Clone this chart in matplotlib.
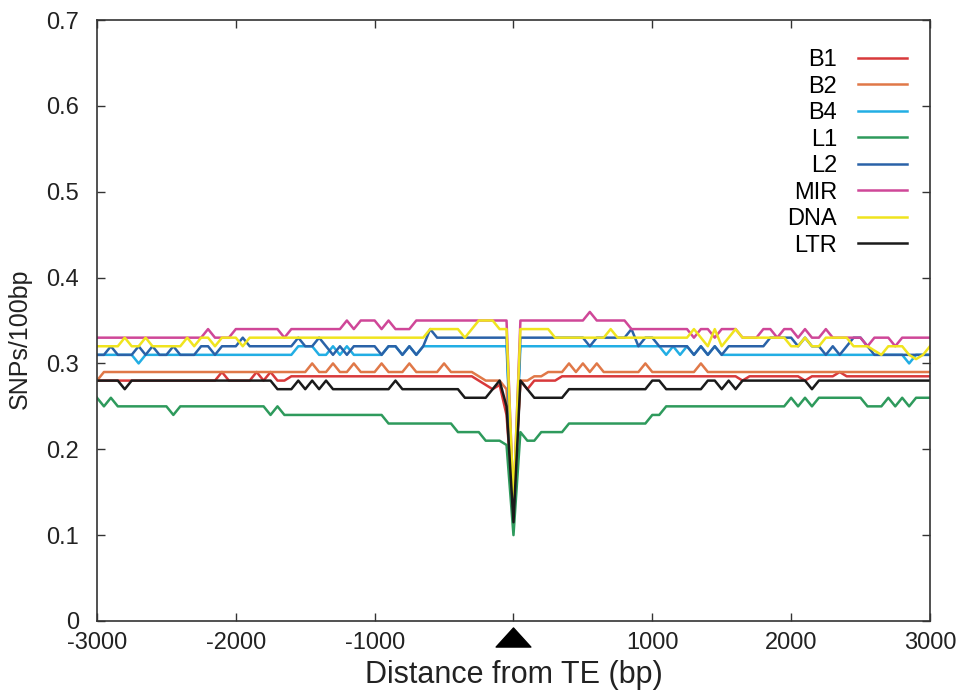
import matplotlib
matplotlib.use("Agg")
import matplotlib.pyplot as plt
from matplotlib.path import Path

plt.rcParams['font.family'] = ['Liberation Sans', 'DejaVu Sans']

# distance bins (bp), 50 bp steps
DIST = list(range(-3000, 3001, 50))

# SNPs per 100bp (rows of 10 bins, centre bin alone)
B1 = [
    .28, .28, .28, .28, .28, .28, .28, .28, .28, .28,
    .28, .28, .28, .28, .28, .28, .28, .28, .29, .28,
    .28, .28, .28, .29, .28, .29, .28, .28, .285, .285,
    .285, .285, .285, .285, .285, .285, .285, .285, .285, .285,
    .285, .285, .285, .285, .285, .285, .285, .285, .285, .285,
    .285, .285, .285, .285, .285, .28, .275, .27, .275, .24,
    .13,
    .28, .27, .28, .28, .28, .28, .285, .285, .285, .285,
    .285, .285, .285, .285, .285, .285, .285, .285, .285, .285,
    .285, .285, .285, .285, .285, .285, .285, .285, .285, .285,
    .285, .285, .28, .285, .285, .285, .285, .285, .285, .285,
    .285, .28, .285, .285, .285, .285, .29, .285, .285, .285,
    .285, .285, .285, .285, .285, .285, .285, .285, .285, .285,
]
B2 = [
    .28, .29, .29, .29, .29, .29, .29, .29, .29, .29,
    .29, .29, .29, .29, .29, .29, .29, .29, .29, .29,
    .29, .29, .29, .29, .29, .29, .29, .29, .29, .29,
    .29, .30, .29, .29, .30, .29, .29, .30, .29, .29,
    .29, .30, .29, .29, .29, .30, .29, .29, .29, .29,
    .30, .29, .29, .29, .29, .285, .28, .28, .28, .27,
    .135,
    .28, .28, .285, .285, .29, .29, .29, .30, .29, .30,
    .29, .30, .29, .29, .29, .29, .29, .29, .30, .29,
    .29, .29, .29, .29, .29, .29, .30, .29, .29, .29,
    .29, .29, .29, .29, .29, .29, .29, .29, .29, .29,
    .29, .29, .29, .29, .29, .29, .29, .29, .29, .29,
    .29, .29, .29, .29, .29, .29, .29, .29, .29, .29,
]
B4 = [
    .31, .31, .31, .31, .31, .31, .30, .31, .31, .31,
    .31, .31, .31, .31, .31, .31, .31, .31, .31, .31,
    .31, .31, .31, .31, .31, .31, .31, .31, .31, .32,
    .32, .32, .31, .31, .32, .31, .32, .31, .31, .31,
    .31, .31, .32, .32, .31, .32, .31, .32, .32, .32,
    .32, .32, .32, .32, .32, .32, .32, .32, .32, .32,
    .125,
    .32, .32, .32, .32, .32, .32, .32, .32, .32, .32,
    .32, .32, .32, .32, .32, .32, .32, .32, .32, .32,
    .32, .31, .32, .31, .32, .31, .32, .31, .32, .31,
    .31, .31, .31, .31, .31, .31, .31, .31, .31, .31,
    .31, .31, .31, .31, .31, .31, .31, .31, .31, .31,
    .31, .31, .31, .31, .31, .31, .30, .31, .31, .31,
]
L1 = [
    .26, .25, .26, .25, .25, .25, .25, .25, .25, .25,
    .25, .24, .25, .25, .25, .25, .25, .25, .25, .25,
    .25, .25, .25, .25, .25, .24, .25, .24, .24, .24,
    .24, .24, .24, .24, .24, .24, .24, .24, .24, .24,
    .24, .24, .23, .23, .23, .23, .23, .23, .23, .23,
    .23, .23, .22, .22, .22, .22, .21, .21, .21, .205,
    .10,
    .22, .21, .21, .22, .22, .22, .22, .23, .23, .23,
    .23, .23, .23, .23, .23, .23, .23, .23, .23, .24,
    .24, .25, .25, .25, .25, .25, .25, .25, .25, .25,
    .25, .25, .25, .25, .25, .25, .25, .25, .25, .26,
    .25, .26, .25, .26, .26, .26, .26, .26, .26, .26,
    .25, .25, .25, .26, .25, .26, .25, .26, .26, .26,
]
L2 = [
    .31, .31, .32, .31, .31, .31, .32, .31, .32, .31,
    .31, .32, .31, .31, .31, .32, .32, .31, .32, .32,
    .32, .33, .32, .32, .32, .32, .32, .32, .32, .33,
    .32, .32, .33, .32, .31, .32, .31, .32, .32, .32,
    .32, .31, .32, .32, .31, .32, .31, .32, .34, .33,
    .33, .33, .33, .33, .33, .33, .33, .33, .33, .33,
    .13,
    .33, .33, .33, .33, .33, .33, .33, .33, .33, .33,
    .32, .33, .33, .33, .33, .33, .34, .32, .33, .33,
    .32, .32, .32, .32, .32, .31, .32, .31, .32, .31,
    .32, .32, .32, .32, .32, .32, .33, .33, .33, .33,
    .32, .33, .32, .32, .31, .32, .31, .32, .33, .33,
    .32, .31, .31, .31, .31, .31, .31, .31, .31, .31,
]
MIR = [
    .33, .33, .33, .33, .33, .33, .33, .33, .33, .33,
    .33, .33, .33, .33, .33, .33, .34, .33, .33, .33,
    .34, .34, .34, .34, .34, .34, .34, .33, .34, .34,
    .34, .34, .34, .34, .34, .34, .35, .34, .35, .35,
    .35, .34, .35, .34, .34, .34, .35, .35, .35, .35,
    .35, .35, .35, .35, .35, .35, .35, .35, .35, .35,
    .135,
    .35, .35, .35, .35, .35, .35, .35, .35, .35, .35,
    .36, .35, .35, .35, .35, .35, .34, .34, .34, .34,
    .34, .34, .34, .34, .34, .33, .34, .34, .33, .34,
    .34, .34, .33, .33, .33, .34, .34, .33, .34, .34,
    .33, .34, .33, .33, .34, .33, .33, .33, .33, .33,
    .32, .33, .33, .33, .32, .33, .33, .33, .33, .33,
]
DNA = [
    .32, .32, .32, .32, .33, .32, .32, .33, .32, .32,
    .32, .32, .32, .33, .32, .33, .33, .32, .33, .33,
    .33, .32, .33, .33, .33, .33, .33, .33, .33, .33,
    .33, .33, .33, .33, .33, .33, .33, .33, .33, .33,
    .33, .33, .33, .33, .33, .33, .33, .33, .34, .34,
    .34, .34, .34, .33, .34, .35, .35, .35, .34, .34,
    .14,
    .34, .34, .34, .34, .34, .33, .33, .33, .33, .33,
    .33, .33, .33, .34, .33, .33, .33, .33, .33, .33,
    .33, .33, .33, .33, .33, .34, .33, .32, .34, .32,
    .33, .34, .33, .33, .33, .33, .33, .33, .33, .32,
    .32, .33, .32, .32, .33, .33, .33, .33, .32, .32,
    .32, .315, .31, .32, .32, .32, .31, .305, .31, .32,
]
LTR = [
    .28, .28, .28, .28, .27, .28, .28, .28, .28, .28,
    .28, .28, .28, .28, .28, .28, .28, .28, .28, .28,
    .28, .28, .28, .28, .28, .28, .27, .27, .27, .28,
    .27, .28, .27, .28, .27, .27, .27, .27, .27, .27,
    .27, .27, .27, .28, .27, .27, .27, .27, .27, .27,
    .27, .27, .27, .26, .26, .26, .26, .27, .28, .25,
    .115,
    .28, .27, .26, .26, .26, .26, .26, .27, .27, .27,
    .27, .27, .27, .27, .27, .27, .27, .27, .27, .28,
    .28, .27, .27, .27, .27, .27, .27, .28, .28, .27,
    .28, .27, .28, .28, .28, .28, .28, .28, .28, .28,
    .28, .28, .27, .28, .28, .28, .28, .28, .28, .28,
    .28, .28, .28, .28, .28, .28, .28, .28, .28, .28,
]

NAMES = ["B1", "B2", "B4", "L1", "L2", "MIR", "DNA", "LTR"]
COLORS = ["#d8393b", "#e07848", "#22aee4", "#2e9a5c",
          "#2a62a8", "#cf4798", "#f0e41e", "#1a1a1a"]
VALUES = [B1, B2, B4, L1, L2, MIR, DNA, LTR]

XTICKS = [-3000, -2000, -1000, 0, 1000, 2000, 3000]
XLABELS = ["-3000", "-2000", "-1000", "", "1000", "2000", "3000"]
YTICKS = [0, 0.1, 0.2, 0.3, 0.4, 0.5, 0.6, 0.7]
YLABELS = ["0", "0.1", "0.2", "0.3", "0.4", "0.5", "0.6", "0.7"]

fig = plt.figure(figsize=(9.68, 6.95), dpi=100)
ax = fig.add_axes([0.1002, 0.1065, 0.8605, 0.8647])

for name, vals, col in zip(NAMES, VALUES, COLORS):
    ax.plot(DIST, vals, color=col, lw=1.8, label=name)

ax.set_xlim(-3000, 3000)
ax.set_ylim(0, 0.7)
ax.set_xticks(XTICKS)
ax.set_xticklabels(XLABELS)
ax.set_yticks(YTICKS)
ax.set_yticklabels(YLABELS)

for sp in ax.spines.values():
    sp.set_linewidth(1.2)
    sp.set_color("#333333")
ax.tick_params(direction="in", top=True, right=True, length=6, width=1,
               color="#333333", labelsize=17, labelcolor="#222222")
ax.tick_params(axis="y", pad=13)
ax.tick_params(axis="x", pad=8)

# black triangle marking the TE position instead of a "0" label
tri = Path([(-1, -0.55), (1, -0.55), (0, 0.55), (-1, -0.55)],
           [Path.MOVETO, Path.LINETO, Path.LINETO, Path.CLOSEPOLY])
ax.plot([0], [-0.027], marker=tri, ms=25, color="black", ls="none",
        transform=ax.get_xaxis_transform(), clip_on=False)

ax.set_xlabel("Distance from TE (bp)", fontsize=22, color="#222222", labelpad=4)
ax.set_ylabel("SNPs/100bp", fontsize=18, color="#222222", labelpad=8)
ax.yaxis.set_label_coords(-0.078, 0.47)

ax.legend(loc="upper right", bbox_to_anchor=(0.989, 0.975), frameon=False,
          markerfirst=False, fontsize=17, handlelength=2.05,
          labelspacing=0.19, handletextpad=0.9, borderaxespad=0.2)

fig.savefig("out.png", dpi=100)
